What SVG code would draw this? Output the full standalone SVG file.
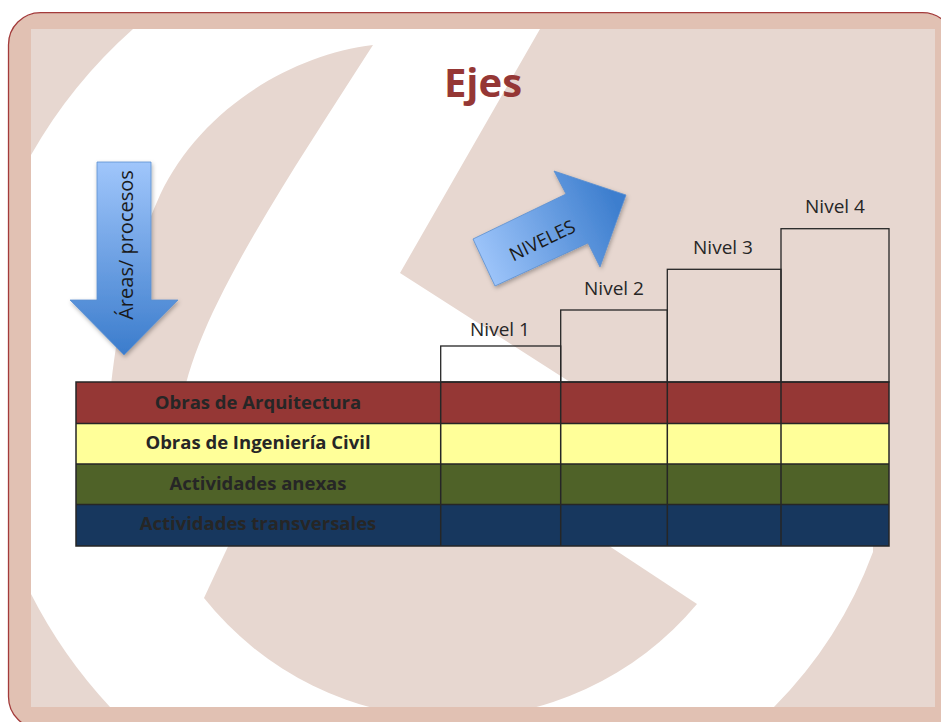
<svg xmlns="http://www.w3.org/2000/svg" width="941" height="722" viewBox="0 0 941 722">
<style>
.wm{fill:#e7d7d0}
.lbl{font-family:"Open Sans","Liberation Sans",sans-serif;font-size:19px;fill:#262626;text-anchor:middle}
.row{font-family:"Open Sans","Liberation Sans",sans-serif;font-size:18.5px;font-weight:bold;fill:#262626;text-anchor:middle}
.grid{stroke:#262626;stroke-width:1.5;fill:none}
.step{stroke:#262626;stroke-width:1.3;fill:none}
</style>
<defs>
<clipPath id="inner"><rect x="31" y="29" width="904" height="678"/></clipPath>
<linearGradient id="gDown" x1="0" y1="0" x2="0" y2="1">
<stop offset="0" stop-color="#a0c6fb"/><stop offset="1" stop-color="#3b7ccc"/>
</linearGradient>
<linearGradient id="gRight" gradientUnits="userSpaceOnUse" x1="480" y1="262" x2="615" y2="200">
<stop offset="0" stop-color="#9ec5fa"/><stop offset="1" stop-color="#3d7ece"/>
</linearGradient>
<filter id="sh" x="-20%" y="-20%" width="140%" height="140%">
<feDropShadow dx="1" dy="2" stdDeviation="2" flood-color="#000" flood-opacity="0.3"/>
</filter>
</defs>

<g id="frame">
<rect x="8.5" y="12.7" width="946" height="716" rx="32" fill="#e1c1b3" stroke="#a33b3b" stroke-width="1.3"/>
<rect x="31" y="29" width="904" height="678" fill="#ffffff"/>
</g>

<g id="watermark" clip-path="url(#inner)">
<path class="wm" d="M31,29 H133 A495,495 0 0,0 31,155 Z"/>
<path class="wm" d="M31,594 A495,495 0 0,0 110,707 H31 Z"/>
<path class="wm" d="M373,45 C290,55 200,110 160,195 C135,250 115,320 108,420 L180,420 C185,330 280,190 373,45 Z"/>
<path class="wm" d="M231,540 L204,598 A318,318 0 0,0 697,604 L600,540 Z"/>
<path class="wm" d="M540,29 H935 V707 H774 A435,435 0 0,0 873,552 L873,500 L620,500 L570,382 L400,273 Z"/>
</g>

<g id="title">
<text x="483" y="97" font-family="'Open Sans','Liberation Sans',sans-serif" font-size="40" font-weight="bold" fill="#953735" text-anchor="middle">Ejes</text>
</g>

<g id="arrow-areas">
<polygon points="97,162 151,162 151,300 178,300 124,355 70,300 97,300" fill="url(#gDown)" stroke="#5b8fd0" stroke-width="0.8" filter="url(#sh)"/>
<text transform="translate(133,245) rotate(-90)" font-family="'Open Sans','Liberation Sans',sans-serif" font-size="20" fill="#1a1a1a" text-anchor="middle">Áreas/ procesos</text>
</g>

<g id="arrow-niveles">
<polygon points="473,239 566,194 554,171 626,195 600,267 588,243 495,286" fill="url(#gRight)" stroke="#5b8fd0" stroke-width="0.8" filter="url(#sh)"/>
<text transform="translate(542,240) rotate(-25.8)" y="7" font-family="'Open Sans','Liberation Sans',sans-serif" font-size="18.5" fill="#1a1a1a" text-anchor="middle">NIVELES</text>
</g>

<g id="table">
<g id="row-arquitectura">
<rect x="76" y="382" width="813" height="41.5" fill="#953735"/>
<text class="row" x="258" y="408.5">Obras de Arquitectura</text>
</g>
<g id="row-ingenieria">
<rect x="76" y="423.5" width="813" height="40.5" fill="#ffff99"/>
<text class="row" x="258" y="449">Obras de Ingeniería Civil</text>
</g>
<g id="row-anexas">
<rect x="76" y="464" width="813" height="40.5" fill="#4f6228"/>
<text class="row" x="258" y="490">Actividades anexas</text>
</g>
<g id="row-transversales">
<rect x="76" y="504.5" width="813" height="41.5" fill="#17375e"/>
<text class="row" x="258" y="530">Actividades transversales</text>
</g>
<rect class="grid" x="76" y="382" width="813" height="164"/>
<path class="grid" d="M76,423.5 H889 M76,464 H889 M76,504.5 H889 M440.7,382 V546 M560.7,382 V546 M667.3,382 V546 M781,382 V546"/>
</g>

<g id="nivel-1">
<rect class="step" x="440.7" y="346" width="120" height="36"/>
<text class="lbl" x="500" y="336">Nivel 1</text>
</g>
<g id="nivel-2">
<rect class="step" x="560.7" y="310" width="106.6" height="72"/>
<text class="lbl" x="614" y="295">Nivel 2</text>
</g>
<g id="nivel-3">
<rect class="step" x="667.3" y="269.3" width="113.7" height="112.7"/>
<text class="lbl" x="723" y="254">Nivel 3</text>
</g>
<g id="nivel-4">
<rect class="step" x="781" y="228.7" width="108" height="153.3"/>
<text class="lbl" x="835" y="213">Nivel 4</text>
</g>

<g id="connectors"/>
</svg>
